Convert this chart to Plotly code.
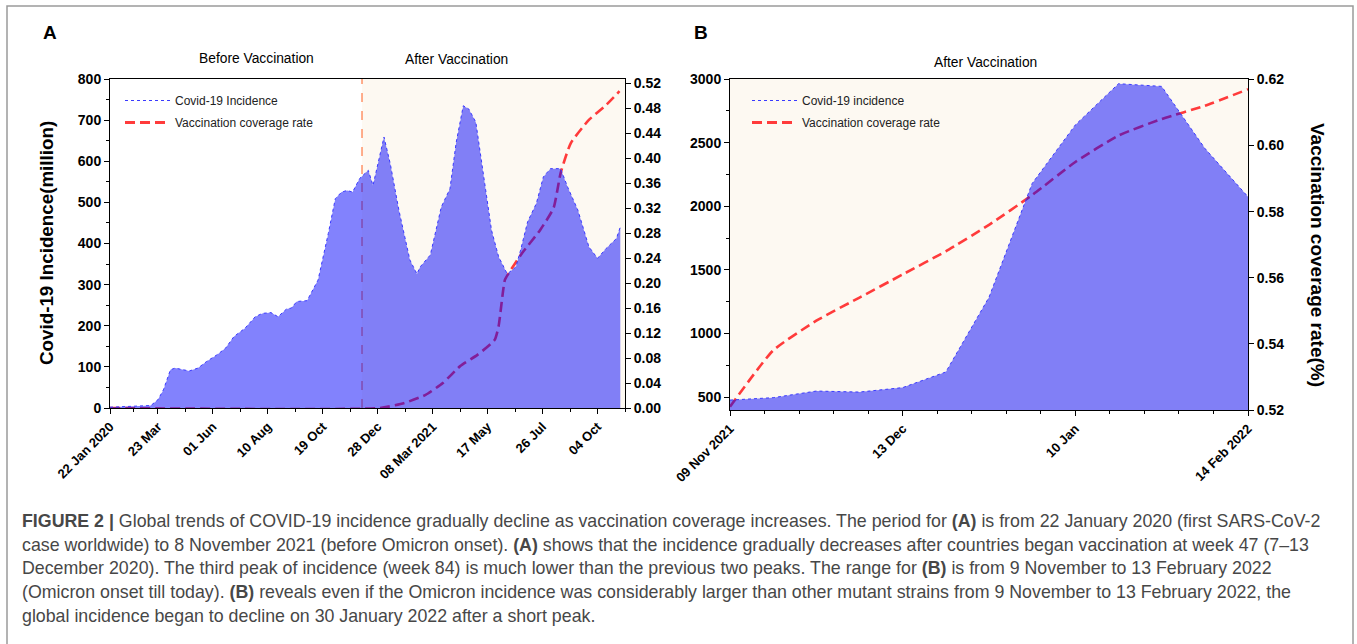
import plotly.graph_objects as go
import pandas as pd

# ---------------- Panel A data ----------------
inc_a_dates = ["2020-01-22","2020-02-17","2020-03-14","2020-03-23","2020-03-30","2020-04-08","2020-04-14",
               "2020-05-02","2020-05-13","2020-05-24","2020-06-06","2020-06-17","2020-06-28","2020-07-12",
               "2020-07-25","2020-08-03","2020-08-14","2020-08-23","2020-09-03","2020-09-09","2020-09-16",
               "2020-09-29","2020-10-13","2020-10-26","2020-11-04","2020-11-12","2020-11-19","2020-11-26",
               "2020-12-05","2020-12-16","2020-12-22","2021-01-05","2021-01-13","2021-01-24","2021-02-07",
               "2021-02-16","2021-02-20","2021-03-05","2021-03-19","2021-03-30","2021-04-07","2021-04-16",
               "2021-04-23","2021-05-02","2021-05-13","2021-05-22","2021-05-31","2021-06-11","2021-06-22",
               "2021-06-28","2021-07-07","2021-07-18","2021-07-27","2021-08-05","2021-08-18","2021-08-27",
               "2021-09-09","2021-09-23","2021-10-04","2021-10-15","2021-10-28","2021-11-02"]
inc_a_values = [2, 4, 6, 20, 44, 93, 97, 90, 97, 113, 129, 145, 174, 194, 222, 230, 232, 222, 241, 243, 259,
                261, 311, 424, 509, 525, 529, 525, 558, 578, 541, 659, 594, 481, 360, 326, 343, 372, 489, 533,
                646, 735, 727, 695, 554, 432, 368, 326, 343, 384, 453, 497, 562, 582, 582, 537, 481, 392, 364,
                388, 412, 440]

vac_a_dates = ["2020-01-22","2020-12-31","2021-01-31","2021-02-27","2021-03-21","2021-04-12","2021-05-04",
               "2021-05-26","2021-05-31","2021-06-08","2021-06-13","2021-06-30","2021-07-23","2021-08-09",
               "2021-08-18","2021-08-31","2021-09-23","2021-10-15","2021-11-01"]
vac_a_values = [0, 0, 0.008, 0.021, 0.040, 0.067, 0.085, 0.109, 0.131, 0.205, 0.216, 0.248, 0.285, 0.320,
                0.376, 0.424, 0.461, 0.485, 0.507]

a_start, a_end = "2020-01-22", "2021-11-08"
vacc_start = "2020-12-08"
a_tick_dates = ["2020-01-22","2020-03-23","2020-06-01","2020-08-10","2020-10-19","2020-12-28",
                "2021-03-08","2021-05-17","2021-07-26","2021-10-04"]
a_tick_labels = ["22 Jan 2020","23 Mar","01 Jun","10 Aug","19 Oct","28 Dec","08 Mar 2021","17 May",
                 "26 Jul","04 Oct"]

# ---------------- Panel B data ----------------
b_points = [0, 1, 2, 3, 4, 5, 6, 7, 8, 9, 10, 11, 12]
inc_b_values = [476, 495, 547, 539, 574, 697, 1284, 2179, 2639, 2963, 2942, 2455, 2074]
vac_b_values = [0.521, 0.538, 0.547, 0.554, 0.561, 0.568, 0.576, 0.585, 0.595, 0.603, 0.608, 0.612, 0.617]
b_tick_pos = [0, 4, 8, 12]
b_tick_labels = ["09 Nov 2021", "13 Dec", "10 Jan", "14 Feb 2022"]

# ---------------- styling ----------------
W, H = 1357, 644
FONT = "Liberation Sans, Arial, sans-serif"
RED = "#ff3b3b"
BLUE_LINE = "#3a3aff"
FILL = "rgba(0,0,250,0.49)"
CREAM = "#fdf9f2"
RED_DASH = "10px,5px"

def px(xp):
    return xp / W

def py(yp):
    return 1 - yp / H

fig = go.Figure()

# Panel A
fig.add_trace(go.Scatter(x=vac_a_dates, y=vac_a_values, mode="lines", xaxis="x", yaxis="y",
                         line=dict(color=RED, width=2.6, dash=RED_DASH, shape="spline", smoothing=0.5),
                         showlegend=False, hoverinfo="skip"))
fig.add_trace(go.Scatter(x=inc_a_dates, y=inc_a_values, mode="lines", xaxis="x", yaxis="y2",
                         fill="tozeroy", fillcolor=FILL,
                         line=dict(color=BLUE_LINE, width=1, dash="dot"),
                         showlegend=False, hoverinfo="skip"))
# Panel B
fig.add_trace(go.Scatter(x=b_points, y=vac_b_values, mode="lines", xaxis="x2", yaxis="y3",
                         line=dict(color=RED, width=2.6, dash=RED_DASH, shape="spline", smoothing=0.5),
                         showlegend=False, hoverinfo="skip"))
fig.add_trace(go.Scatter(x=b_points, y=inc_b_values, mode="lines", xaxis="x2", yaxis="y4",
                         fill="tozeroy", fillcolor=FILL,
                         line=dict(color=BLUE_LINE, width=1, dash="dot"),
                         showlegend=False, hoverinfo="skip"))

# legend entries
for name, color, width, dash, leg, grp in [
        ("Covid-19 Incidence", BLUE_LINE, 1.2, "dot", "legend", "a1"),
        ("Vaccination coverage rate", RED, 2.8, RED_DASH, "legend", "a2"),
        ("Covid-19 incidence", BLUE_LINE, 1.2, "dot", "legend2", "b1"),
        ("Vaccination coverage rate", RED, 2.8, RED_DASH, "legend2", "b2")]:
    fig.add_trace(go.Scatter(x=[None], y=[None], mode="lines", name=name, legend=leg, legendgroup=grp,
                             xaxis="x" if leg == "legend" else "x2",
                             yaxis="y" if leg == "legend" else "y3",
                             line=dict(color=color, width=width, dash=dash)))

tickfont = dict(family=FONT, size=14, color="black", weight="bold")
xtickfont = dict(family=FONT, size=13, color="black", weight="bold")
axis_common = dict(showline=True, linecolor="black", linewidth=1, ticks="outside", ticklen=5,
                   tickcolor="black", tickwidth=1, showgrid=False, zeroline=False, automargin=False)

a_dt = pd.to_datetime(a_tick_dates)
a_minor = [(a_dt[i] + (a_dt[i + 1] - a_dt[i]) / 2).strftime("%Y-%m-%d") for i in range(len(a_dt) - 1)]
a_minor.append((a_dt[-1] + pd.Timedelta(days=35)).strftime("%Y-%m-%d"))

dom_a = [px(110), px(625)]
dom_b = [px(730), px(1248)]
ydom_a = [py(408), py(79)]
ydom_b = [py(410), py(79)]

legend_font = dict(family=FONT, size=12, color="#222")

fig.update_layout(
    width=W, height=H, autosize=False,
    margin=dict(l=0, r=0, t=0, b=0, autoexpand=False),
    paper_bgcolor="white", plot_bgcolor="white",
    font=dict(family=FONT, color="black"),
    xaxis=dict(domain=dom_a, anchor="y", type="date", range=[a_start, a_end],
               tickmode="array", tickvals=a_tick_dates, ticktext=a_tick_labels, tickangle=-45,
               tickfont=xtickfont, mirror=True,
               minor=dict(tickmode="array", tickvals=a_minor, ticks="outside", ticklen=3, tickcolor="black"),
               **axis_common),
    yaxis=dict(domain=ydom_a, anchor="x", side="right", range=[0, 0.5265],
               tickmode="array", tickvals=[i * 0.04 for i in range(14)], tickformat=".2f",
               tickfont=tickfont, **axis_common),
    yaxis2=dict(overlaying="y", anchor="x", side="left", range=[0, 800], tickmode="linear", tick0=0, dtick=100,
                tickfont=tickfont,
                minor=dict(tickmode="linear", tick0=0, dtick=50, ticks="outside", ticklen=3, tickcolor="black"),
                **axis_common),
    xaxis2=dict(domain=dom_b, anchor="y3", range=[0, 12], tickmode="array", tickvals=b_tick_pos,
                ticktext=b_tick_labels, tickangle=-45, tickfont=xtickfont, mirror=True,
                minor=dict(tickmode="linear", tick0=0, dtick=0.8, ticks="outside", ticklen=3, tickcolor="black"),
                **axis_common),
    yaxis3=dict(domain=ydom_b, anchor="x2", side="right", range=[0.52, 0.6201],
                tickmode="array", tickvals=[0.52, 0.54, 0.56, 0.58, 0.60, 0.62], tickformat=".2f",
                tickfont=tickfont, **axis_common),
    yaxis4=dict(overlaying="y3", anchor="x2", side="left", range=[398, 3000],
                tickmode="array", tickvals=[500, 1000, 1500, 2000, 2500, 3000], tickfont=tickfont,
                minor=dict(tickmode="array", tickvals=[750, 1250, 1750, 2250, 2750], ticks="outside",
                           ticklen=3, tickcolor="black"),
                **axis_common),
    legend=dict(x=px(120), y=py(86), xanchor="left", yanchor="top", bgcolor="rgba(0,0,0,0)",
                font=legend_font, traceorder="grouped", tracegroupgap=3, itemwidth=45),
    legend2=dict(x=px(747), y=py(86), xanchor="left", yanchor="top", bgcolor="rgba(0,0,0,0)",
                 font=legend_font, traceorder="grouped", tracegroupgap=3, itemwidth=45),
)

shapes = [
    # after-vaccination background, panel A
    dict(type="rect", xref="x", yref="y domain", x0=vacc_start, x1=a_end, y0=0, y1=1,
         fillcolor=CREAM, line=dict(width=0), layer="below"),
    # vaccination start line
    dict(type="line", xref="x", yref="y domain", x0=vacc_start, x1=vacc_start, y0=0, y1=1,
         line=dict(color="#ff5f1f", width=1, dash="dash"), layer="below"),
    # panel B background
    dict(type="rect", xref="x2 domain", yref="y3 domain", x0=0, x1=1, y0=0, y1=1,
         fillcolor=CREAM, line=dict(width=0), layer="below"),
    # outer frame
    dict(type="rect", xref="paper", yref="paper", x0=px(7), x1=px(1353), y0=-0.05, y1=py(6),
         fillcolor="rgba(0,0,0,0)", line=dict(color="#9a9a9a", width=1.5), layer="below"),
]
fig.update_layout(shapes=shapes)

ann = []
def add_text(text, x, y, size, bold=False, angle=0, xanchor="center", color="black"):
    ann.append(dict(text=text, x=px(x), y=py(y), xref="paper", yref="paper", showarrow=False,
                    xanchor=xanchor, yanchor="middle", textangle=angle,
                    font=dict(family=FONT, size=size, color=color, weight="bold" if bold else "normal")))

add_text("A", 50, 33, 19, bold=True)
add_text("B", 701, 33, 19, bold=True)
add_text("Before Vaccination", 256, 59, 13.8)
add_text("After Vaccination", 456, 60, 13.8)
add_text("After Vaccination", 985, 63, 13.8)
add_text("Covid-19 Incidence(million)", 47, 243, 18.8, bold=True, angle=-90)
add_text("Vaccination coverage rate(%)", 1318, 255, 19, bold=True, angle=90)

caption = [
    "<b>FIGURE 2 |</b> Global trends of COVID-19 incidence gradually decline as vaccination coverage increases. The period for <b>(A)</b> is from 22 January 2020 (first SARS-CoV-2",
    "case worldwide) to 8 November 2021 (before Omicron onset). <b>(A)</b> shows that the incidence gradually decreases after countries began vaccination at week 47 (7–13",
    "December 2020). The third peak of incidence (week 84) is much lower than the previous two peaks. The range for <b>(B)</b> is from 9 November to 13 February 2022",
    "(Omicron onset till today). <b>(B)</b> reveals even if the Omicron incidence was considerably larger than other mutant strains from 9 November to 13 February 2022, the",
    "global incidence began to decline on 30 January 2022 after a short peak.",
]
for i, line in enumerate(caption):
    add_text(line, 20, 521 + i * 23.7, 17.8, xanchor="left", color="#474747")

fig.update_layout(annotations=ann)
fig.write_html("out.html")
